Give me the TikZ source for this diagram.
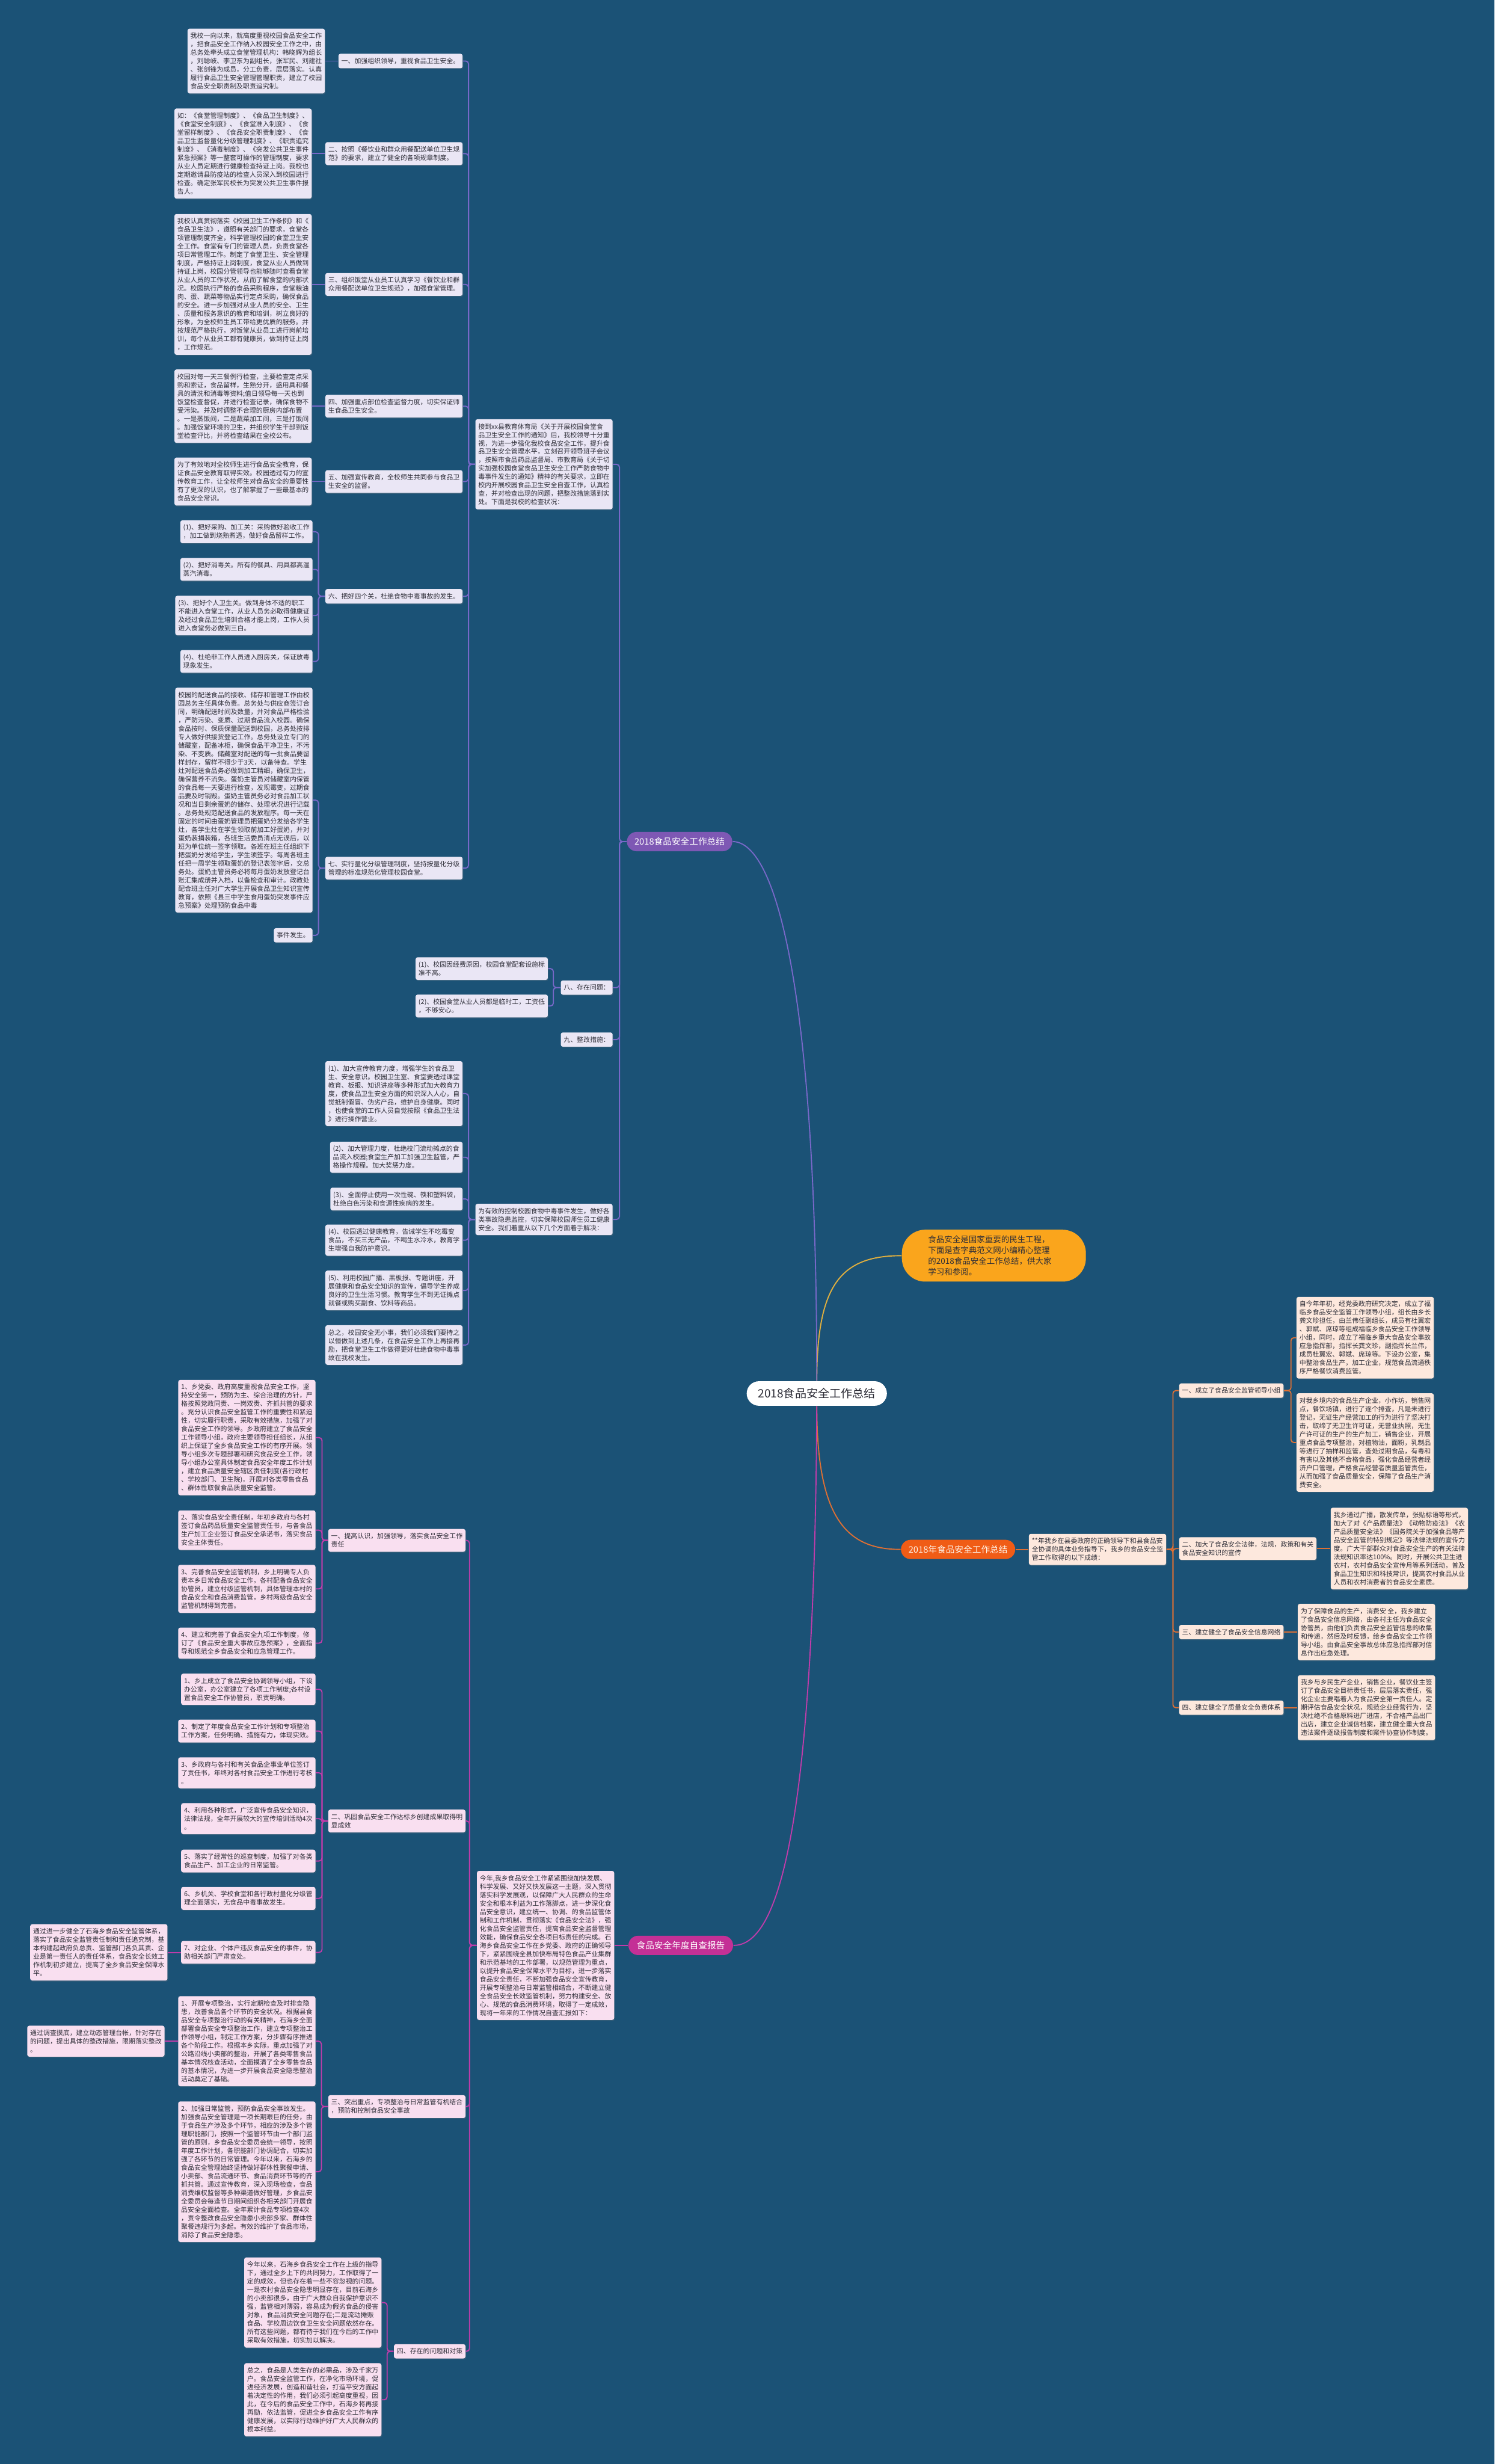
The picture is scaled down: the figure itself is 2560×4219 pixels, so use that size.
\documentclass[tikz,border=0pt]{standalone}
\usepackage{fontspec}
\setmainfont{Noto Sans CJK SC}
\usetikzlibrary{positioning,shadows}

\definecolor{bgblue}{RGB}{27,82,118}
\definecolor{inkdark}{RGB}{45,45,55}
\definecolor{cPurpMain}{RGB}{126,88,180}
\definecolor{cPurpLine}{RGB}{120,104,200}
\definecolor{cPurpLeaf}{RGB}{234,230,245}
\definecolor{cPinkMain}{RGB}{196,48,150}
\definecolor{cPinkLine}{RGB}{192,60,170}
\definecolor{cPinkLeaf}{RGB}{249,223,240}
\definecolor{cOrgMain}{RGB}{240,92,22}
\definecolor{cOrgLine}{RGB}{222,112,52}
\definecolor{cOrgLeaf}{RGB}{253,232,221}
\definecolor{cAmbMain}{RGB}{250,165,28}
\definecolor{cAmbLine}{RGB}{226,176,62}

\newcommand\leaffont{\fontsize{3.2pt}{4.1pt}\selectfont}
\newcommand\branchfont{\fontsize{4.3pt}{5.2pt}\selectfont}
\newcommand\rootfont{\fontsize{5.6pt}{6.6pt}\selectfont}
\newcommand\introfont{\fontsize{3.95pt}{5.3pt}\selectfont}

\begin{document}
\begin{tikzpicture}[x=0.01cm, y=-0.01cm,
  box/.style={rectangle, rounded corners=0.035cm, align=left, text=inkdark, font=\leaffont,
    inner xsep=0.05cm, inner ysep=0.07cm,
    drop shadow={shadow xshift=0.012cm, shadow yshift=-0.015cm, opacity=0.25}},
  pbox/.style={box, fill=cPurpLeaf},
  kbox/.style={box, fill=cPinkLeaf},
  obox/.style={box, fill=cOrgLeaf},
  branch/.style={rectangle, rounded corners=0.165cm, font=\branchfont, text=white,
    inner xsep=0.13cm, inner ysep=0.05cm, minimum height=0.33cm},
  plink/.style={draw=cPurpLine, line width=0.55pt, rounded corners=0.05cm},
  klink/.style={draw=cPinkLine, line width=0.55pt, rounded corners=0.05cm},
  olink/.style={draw=cOrgLine, line width=0.55pt, rounded corners=0.05cm},
  alink/.style={draw=cAmbLine, line width=0.55pt}]

  \useasboundingbox (0,0) rectangle (2560,4219);
  \fill[bgblue] (0,0) rectangle (2560,4219);

  % Nodes
  \node[rectangle, rounded corners=0.21cm, fill=white, text=inkdark, font=\rootfont,
    minimum width=2.4cm, minimum height=0.42cm] (root) at (1399,2386) {2018食品安全工作总结};

  \node[rectangle, rounded corners=0.4cm, fill=cAmbMain, text=inkdark, font=\introfont, align=left,
    text width=2.25cm, inner xsep=0.45cm, inner ysep=0.1cm, anchor=west] (intro) at (1544,2150)
    {食品安全是国家重要的民生工程，\\下面是查字典范文网小编精心整理\\的2018食品安全工作总结，供大家\\学习和参阅。};

  \node[branch, fill=cPurpMain] (school) at (1164,1441) {2018食品安全工作总结};
  \node[branch, fill=cOrgMain, text=orange!8] (town) at (1641,2653) {2018年食品安全工作总结};
  \node[branch, fill=cPinkMain, inner xsep=0.14cm] (selfcheck) at (1166,3331) {食品安全年度自查报告};

  % school branch
  \node[pbox, anchor=east] (notice) at (1050,795) {接到xx县教育体育局《关于开展校园食堂食\\品卫生安全工作的通知》后，我校领导十分重\\视，为进一步强化我校食品安全工作，提升食\\品卫生安全管理水平，立刻召开领导班子会议\\，按照市食品药品监督局、市教育局《关于切\\实加强校园食堂食品卫生安全工作严防食物中\\毒事件发生的通知》精神的有关要求，立即在\\校内开展校园食品卫生安全自查工作，认真检\\查，并对检查出现的问题，把整改措施落到实\\处。下面是我校的检查状况：};

  \node[pbox, anchor=east] (sec1) at (793,104.5) {一、加强组织领导，重视食品卫生安全。};
  \node[pbox, anchor=east] (sec2) at (793,263) {二、按照《餐饮业和群众用餐配送单位卫生规\\范》的要求，建立了健全的各项规章制度。};
  \node[pbox, anchor=east] (sec3) at (793,487) {三、组织饭堂从业员工认真学习《餐饮业和群\\众用餐配送单位卫生规范》，加强食堂管理。};
  \node[pbox, anchor=east] (sec4) at (793,695.5) {四、加强重点部位检查监督力度，切实保证师\\生食品卫生安全。};
  \node[pbox, anchor=east] (sec5) at (793,824.5) {五、加强宣传教育，全校师生共同参与食品卫\\生安全的监督。};
  \node[pbox, anchor=east] (sec6) at (793,1021) {六、把好四个关，杜绝食物中毒事故的发生。};
  \node[pbox, anchor=east] (sec7) at (793,1486.5) {七、实行量化分级管理制度，坚持按量化分级\\管理的标准规范化管理校园食堂。};

  \node[pbox, left=0.22cm of sec1] (sec1txt) {我校一向以来，就高度重视校园食品安全工作\\，把食品安全工作纳入校园安全工作之中，由\\总务处牵头成立食堂管理机构：韩晓辉为组长\\，刘聪岐、李卫东为副组长，张军民、刘建社\\、张剑锋为成员，分工负责，层层落实。认真\\履行食品卫生安全管理管理职责，建立了校园\\食品安全职责制及职责追究制。};
  \node[pbox, left=0.22cm of sec2] (sec2txt) {如：《食堂管理制度》、《食品卫生制度》、\\《食堂安全制度》、《食堂准入制度》、《食\\堂留样制度》、《食品安全职责制度》、《食\\品卫生监督量化分级管理制度》、《职责追究\\制度》、《消毒制度》、《突发公共卫生事件\\紧急预案》等一整套可操作的管理制度，要求\\从业人员定期进行健康检查持证上岗。我校也\\定期邀请县防疫站的检查人员深入到校园进行\\检查。确定张军民校长为突发公共卫生事件报\\告人。};
  \node[pbox, left=0.22cm of sec3] (sec3txt) {我校认真贯彻落实《校园卫生工作条例》和《\\食品卫生法》，遵照有关部门的要求，食堂各\\项管理制度齐全，科学管理校园的食堂卫生安\\全工作。食堂有专门的管理人员，负责食堂各\\项日常管理工作。制定了食堂卫生、安全管理\\制度，严格持证上岗制度，食堂从业人员做到\\持证上岗，校园分管领导也能够随时查看食堂\\从业人员的工作状况，从而了解食堂的内部状\\况。校园执行严格的食品采购程序，食堂粮油\\肉、蛋、蔬菜等物品实行定点采购，确保食品\\的安全。进一步加强对从业人员的安全、卫生\\、质量和服务意识的教育和培训，树立良好的\\形象，为全校师生员工带给更优质的服务。并\\按规范严格执行，对饭堂从业员工进行岗前培\\训，每个从业员工都有健康员，做到持证上岗\\，工作规范。};
  \node[pbox, left=0.22cm of sec4] (sec4txt) {校园对每一天三餐例行检查，主要检查定点采\\购和索证，食品留样，生熟分开，盛用具和餐\\具的清洗和消毒等资料;值日领导每一天也到\\饭堂检查督促，并进行检查记录，确保食物不\\受污染。并及时调整不合理的厨房内部布置\\。一是蒸饭间，二是蔬菜加工间，三是打饭间\\。加强饭堂环境的卫生，并组织学生干部到饭\\堂检查评比，并将检查结果在全校公布。};
  \node[pbox, left=0.22cm of sec5] (sec5txt) {为了有效地对全校师生进行食品安全教育，保\\证食品安全教育取得实效。校园透过有力的宣\\传教育工作，让全校师生对食品安全的重要性\\有了更深的认识，也了解掌握了一些最基本的\\食品安全常识。};

  \node[pbox, anchor=east] (gate1) at (536,910.5) {(1)、把好采购、加工关：采购做好验收工作\\，加工做到烧熟煮透，做好食品留样工作。};
  \node[pbox, anchor=east] (gate2) at (536,975) {(2)、把好消毒关。所有的餐具、用具都高温\\蒸汽消毒。};
  \node[pbox, anchor=east] (gate3) at (536,1054) {(3)、把好个人卫生关。做到身体不适的职工\\不能进入食堂工作，从业人员务必取得健康证\\及经过食品卫生培训合格才能上岗，工作人员\\进入食堂务必做到三白。};
  \node[pbox, anchor=east] (gate4) at (536,1132.5) {(4)、杜绝非工作人员进入厨房关，保证放毒\\现象发生。};

  \node[pbox, anchor=east] (sec7txt) at (536,1370) {校园的配送食品的接收、储存和管理工作由校\\园总务主任具体负责。总务处与供应商签订合\\同，明确配送时间及数量，并对食品严格检验\\，严防污染、变质、过期食品流入校园。确保\\食品按时、保质保量配送到校园，总务处按排\\专人做好供接货登记工作。总务处设立专门的\\储藏室，配备冰柜，确保食品干净卫生，不污\\染、不变质。储藏室对配送的每一批食品要留\\样封存，留样不得少于3天，以备待查。学生\\灶对配送食品务必做到加工精细，确保卫生，\\确保营养不流失。蛋奶主管员对储藏室内保管\\的食品每一天要进行检查，发现霉变，过期食\\品要及时销毁。蛋奶主管员务必对食品加工状\\况和当日剩余蛋奶的储存、处理状况进行记载\\。总务处规范配送食品的发放程序。每一天在\\固定的时间由蛋奶管理员把蛋奶分发给各学生\\灶，各学生灶在学生领取前加工好蛋奶，并对\\蛋奶装捐装箱，各班生活委员清点无误后，以\\班为单位统一签字领取。各班在班主任组织下\\把蛋奶分发给学生，学生须签字。每周各班主\\任把一周学生领取蛋奶的登记表签字后，交总\\务处。蛋奶主管员务必将每月蛋奶发放登记台\\账汇集成册并入档，以备检查和审计。政教处\\配合班主任对广大学生开展食品卫生知识宣传\\教育，依照《县三中学生食用蛋奶突发事件应\\急预案》处理预防食品中毒};
  \node[pbox, anchor=east] (sec7end) at (536,1601.5) {事件发生。};

  \node[pbox, anchor=east] (probs) at (1050,1691) {八、存在问题：};
  \node[pbox, anchor=east] (prob1) at (939,1658.5) {(1)、校园因经费原因，校园食堂配套设施标\\准不高。};
  \node[pbox, anchor=east] (prob2) at (939,1722.5) {(2)、校园食堂从业人员都是临时工，工资低\\，不够安心。};
  \node[pbox, anchor=east] (fixes) at (1050,1780) {九、整改措施：};

  \node[pbox, anchor=east] (measures) at (1050,2088) {为有效的控制校园食物中毒事件发生，做好各\\类事故隐患监控，切实保障校园师生员工健康\\安全。我们着重从以下几个方面着手解决：};
  \node[pbox, anchor=east] (meas1) at (793,1872.5) {(1)、加大宣传教育力度，增强学生的食品卫\\生、安全意识。校园卫生室、食堂要透过课堂\\教育、板报、知识讲座等多种形式加大教育力\\度，使食品卫生安全方面的知识深入人心，自\\觉抵制假冒、伪劣产品，维护自身健康。同时\\，也使食堂的工作人员自觉按照《食品卫生法\\》进行操作营业。};
  \node[pbox, anchor=east] (meas2) at (793,1981.5) {(2)、加大管理力度，杜绝校门流动摊点的食\\品流入校园;食堂生产加工加强卫生监管，严\\格操作规程。加大奖惩力度。};
  \node[pbox, anchor=east] (meas3) at (793,2053) {(3)、全面停止使用一次性碗、筷和塑料袋，\\杜绝白色污染和食源性疾病的发生。};
  \node[pbox, anchor=east] (meas4) at (793,2123.5) {(4)、校园透过健康教育，告诫学生不吃霉变\\食品，不买三无产品，不喝生水冷水，教育学\\生增强自我防护意识。};
  \node[pbox, anchor=east] (meas5) at (793,2209.5) {(5)、利用校园广播、黑板报、专题讲座，开\\展健康和食品安全知识的宣传，倡导学生养成\\良好的卫生生活习惯。教育学生不到无证摊点\\就餐或购买副食、饮料等商品。};
  \node[pbox, anchor=east] (meas6) at (793,2303) {总之，校园安全无小事，我们必须我们要持之\\以恒做到上述几条，在食品安全工作上再接再\\励，把食堂卫生工作做得更好杜绝食物中毒事\\故在我校发生。};

  % town branch
  \node[obox, right=0.22cm of town] (towngain) {**年我乡在县委政府的正确领导下和县食品安\\全协调的具体业务指导下，我乡的食品安全监\\管工作取得的以下成绩：};
  \node[obox, anchor=west] (work1) at (2019,2381) {一、成立了食品安全监管领导小组};
  \node[obox, anchor=west] (work2) at (2019,2651.5) {二、加大了食品安全法律，法规，政策和有关\\食品安全知识的宣传};
  \node[obox, anchor=west] (work3) at (2019,2794.5) {三、建立健全了食品安全信息网络};
  \node[obox, anchor=west] (work4) at (2019,2924) {四、建立健全了质量安全负责体系};

  \node[obox, anchor=west] (work1a) at (2220,2290.5) {自今年年初，经党委政府研究决定，成立了福\\临乡食品安全监管工作领导小组，组长由乡长\\龚文珍担任，由兰伟任副组长，成员有杜翼宏\\、郭斌、席琼等组成福临乡食品安全工作领导\\小组，同时，成立了福临乡重大食品安全事故\\应急指挥部，指挥长龚文珍，副指挥长兰伟，\\成员杜翼宏、郭斌、席琼等。下设办公室，集\\中整治食品生产，加工企业，规范食品流通秩\\序严格餐饮消费监管。};
  \node[obox, anchor=west] (work1b) at (2220,2470) {对我乡境内的食品生产企业，小作坊，销售网\\点，餐饮场镇，进行了逐个排查，凡是未进行\\登记，无证生产经营加工的行为进行了坚决打\\击，取缔了无卫生许可证，无营业执照，无生\\产许可证的生产的生产加工，销售企业，开展\\重点食品专项整治，对植物油，面粉，乳制品\\等进行了抽样和监管，查处过期食品，有毒和\\有害以及其他不合格食品，强化食品经营者经\\济户口管理，严格食品经营者质量监管责任，\\从而加强了食品质量安全，保障了食品生产消\\费安全。};
  \node[obox, right=0.23cm of work2] (work2txt) {我乡通过广播，散发传单，张贴标语等形式，\\加大了对《产品质量法》《动物防疫法》《农\\产品质量安全法》《国务院关于加强食品等产\\品安全监管的特别规定》等法律法规的宣传力\\度。广大干部群众对食品安全生产的有关法律\\法规知识率达100\%。同时，开展公共卫生进\\农村，农村食品安全宣传月等系列活动，普及\\食品卫生知识和科技常识，提高农村食品从业\\人员和农村消费者的食品安全素质。};
  \node[obox, right=0.23cm of work3] (work3txt) {为了保障食品的生产，消费安 全，我乡建立\\了食品安全信息网络，由各村主任为食品安全\\协管员，由他们负责食品安全监管信息的收集\\和传递，然后及时反馈，给乡食品安全工作领\\导小组。由食品安全事故总体应急指挥部对信\\息作出应急处理。};
  \node[obox, right=0.23cm of work4] (work4txt) {我乡与乡民生产企业，销售企业，餐饮业主签\\订了食品安全目标责任书，层层落实责任，强\\化企业主要唱着人为食品安全第一责任人。定\\期评估食品安全状况，规范企业经营行为，坚\\决杜绝不合格原料进厂进店，不合格产品出厂\\出店，建立企业诚信档案，建立健全重大食品\\违法案件逐级报告制度和案件协查协作制度。};

  % selfcheck branch
  \node[kbox, left=0.23cm of selfcheck] (overview) {今年,我乡食品安全工作紧紧围绕加快发展、\\科学发展、又好又快发展这一主题，深入贯彻\\落实科学发展观，以保障广大人民群众的生命\\安全和根本利益为工作落脚点，进一步深化食\\品安全意识，建立统一、协调、的食品监管体\\制和工作机制，贯彻落实《食品安全法》，强\\化食品安全监管责任，提高食品安全监督管理\\效能，确保食品安全各项目标责任的完成。石\\海乡食品安全工作在乡党委、政府的正确领导\\下，紧紧围绕全县加快布局特色食品产业集群\\和示范基地的工作部署，以规范管理为重点，\\以提升食品安全保障水平为目标，进一步落实\\食品安全责任，不断加强食品安全宣传教育，\\开展专项整治与日常监管相结合，不断建立健\\全食品安全长效监管机制，努力构建安全、放\\心、规范的食品消费环境，取得了一定成效，\\现将一年来的工作情况自查汇报如下：};

  \node[kbox, anchor=east] (part1) at (798,2637.5) {一、提高认识，加强领导，落实食品安全工作\\责任};
  \node[kbox, anchor=east] (part2) at (798,3118) {二、巩固食品安全工作达标乡创建成果取得明\\显成效};
  \node[kbox, anchor=east] (part3) at (798,3607) {三、突出重点，专项整治与日常监管有机结合\\，预防和控制食品安全事故};
  \node[kbox, anchor=east] (part4) at (798,4026) {四、存在的问题和对策};

  \node[kbox, anchor=east] (lead1) at (541,2461.5) {1、乡党委、政府高度重视食品安全工作，坚\\持安全第一，预防为主、综合治理的方针，严\\格按照党政同责、一岗双责、齐抓共管的要求\\。充分认识食品安全监管工作的重要性和紧迫\\性，切实履行职责，采取有效措施，加强了对\\食品安全工作的领导。乡政府建立了食品安全\\工作领导小组，政府主要领导担任组长，从组\\织上保证了全乡食品安全工作的有序开展。领\\导小组多次专题部署和研究食品安全工作，领\\导小组办公室具体制定食品安全年度工作计划\\，建立食品质量安全辖区责任制度(各行政村\\、学校部门、卫生院)，开展对各类零售食品\\、群体性取餐食品质量安全监管。};
  \node[kbox, anchor=east] (lead2) at (541,2620) {2、落实食品安全责任制，年初乡政府与各村\\签订食品药品质量安全监管责任书，与各食品\\生产加工企业签订食品安全承诺书，落实食品\\安全主体责任。};
  \node[kbox, anchor=east] (lead3) at (541,2720.5) {3、完善食品安全监管机制，乡上明确专人负\\责本乡日常食品安全工作，各村配备食品安全\\协管员，建立村级监管机制，具体管理本村的\\食品安全和食品消费监管，乡村两级食品安全\\监管机制得到完善。};
  \node[kbox, anchor=east] (lead4) at (541,2813.5) {4、建立和完善了食品安全九项工作制度，修\\订了《食品安全重大事故应急预案》，全面指\\导和规范全乡食品安全和应急管理工作。};

  \node[kbox, anchor=east] (goal1) at (541,2892.5) {1、乡上成立了食品安全协调领导小组，下设\\办公室，办公室建立了各项工作制度;各村设\\置食品安全工作协管员，职责明确。};
  \node[kbox, anchor=east] (goal2) at (541,2964) {2、制定了年度食品安全工作计划和专项整治\\工作方案，任务明确、措施有力，体现实效。};
  \node[kbox, anchor=east] (goal3) at (541,3035.5) {3、乡政府与各村和有关食品企事业单位签订\\了责任书，年终对各村食品安全工作进行考核\\。};
  \node[kbox, anchor=east] (goal4) at (541,3114) {4、利用各种形式，广泛宣传食品安全知识，\\法律法规，全年开展较大的宣传培训活动4次\\。};
  \node[kbox, anchor=east] (goal5) at (541,3186.5) {5、落实了经常性的巡查制度，加强了对各类\\食品生产、加工企业的日常监管。};
  \node[kbox, anchor=east] (goal6) at (541,3250.5) {6、乡机关、学校食堂和各行政村量化分级管\\理全面落实，无食品中毒事故发生。};
  \node[kbox, anchor=east] (goal7) at (541,3343) {7、对企业、个体户违反食品安全的事件，协\\助相关部门严肃查处。};
  \node[kbox, left=0.22cm of goal7] (goal7txt) {通过进一步健全了石海乡食品安全监管体系，\\落实了食品安全监管责任制和责任追究制，基\\本构建起政府负总责、监管部门各负其责、企\\业是第一责任人的责任体系，食品安全长效工\\作机制初步建立，提高了全乡食品安全保障水\\平。};

  \node[kbox, anchor=east] (focus1) at (541,3495) {1、开展专项整治，实行定期检查及时排查隐\\患，改善食品各个环节的安全状况。根据县食\\品安全专项整治行动的有关精神，石海乡全面\\部署食品安全专项整治工作，建立专项整治工\\作领导小组，制定工作方案，分步骤有序推进\\各个阶段工作。根据本乡实际，重点加强了对\\公路沿线小卖部的整治，开展了各类零售食品\\基本情况核查活动，全面摸清了全乡零售食品\\的基本情况，为进一步开展食品安全隐患整治\\活动奠定了基础。};
  \node[kbox, left=0.22cm of focus1] (focus1txt) {通过调查摸底，建立动态管理台帐，针对存在\\的问题，提出具体的整改措施，限期落实整改\\。};
  \node[kbox, anchor=east] (focus2) at (541,3718.5) {2、加强日常监管，预防食品安全事故发生。\\加强食品安全管理是一项长期艰巨的任务，由\\于食品生产涉及多个环节，相应的涉及多个管\\理职能部门，按照一个监管环节由一个部门监\\管的原则，乡食品安全委员会统一领导，按照\\年度工作计划，各职能部门协调配合，切实加\\强了各环节的日常管理。今年以来，石海乡的\\食品安全管理始终坚持做好群体性聚餐申请、\\小卖部、食品流通环节、食品消费环节等的齐\\抓共管。通过宣传教育，深入现场检查，食品\\消费维权监督等多种渠道做好管理，乡食品安\\全委员会每逢节日期间组织各相关部门开展食\\品安全全面检查。全年累计食品专项检查4次\\，责令整改食品安全隐患小卖部多家、群体性\\聚餐违规行为多起。有效的维护了食品市场，\\消除了食品安全隐患。};

  \node[kbox, anchor=east] (issue1) at (654,3942.5) {今年以来，石海乡食品安全工作在上级的指导\\下，通过全乡上下的共同努力，工作取得了一\\定的成效，但也存在着一些不容忽视的问题。\\一是农村食品安全隐患明显存在，目前石海乡\\的小卖部很多，由于广大群众自我保护意识不\\强，监管相对薄弱，容易成为假劣食品的侵害\\对象，食品消费安全问题存在;二是流动摊贩\\食品、学校周边饮食卫生安全问题依然存在。\\所有这些问题，都有待于我们在今后的工作中\\采取有效措施，切实加以解决。};
  \node[kbox, anchor=east] (issue2) at (654,4109) {总之，食品是人类生存的必需品，涉及千家万\\户。食品安全监管工作，在净化市场环境，促\\进经济发展，创造和谐社会，打造平安方面起\\着决定性的作用，我们必须引起高度重视，因\\此，在今后的食品安全工作中，石海乡将再接\\再励，依法监管，促进全乡食品安全工作有序\\健康发展，以实际行动维护好广大人民群众的\\根本利益。};

  % Edges
  \draw[alink] (root.north) .. controls (1399,2200) and (1440,2150) .. (intro.west);
  \draw[plink] (root.north) .. controls (1399,1700) and (1330,1441) .. (school.east);
  \draw[olink] (root.south) .. controls (1399,2600) and (1450,2653) .. (town.west);
  \draw[klink] (root.south) .. controls (1395,3200) and (1320,3331) .. (selfcheck.east);

  \draw[plink] (school.west) -- ++(-12,0) |- (notice.east);
  \draw[plink] (school.west) -- ++(-12,0) |- (probs.east);
  \draw[plink] (school.west) -- ++(-12,0) |- (fixes.east);
  \draw[plink] (school.west) -- ++(-12,0) |- (measures.east);
  \draw[plink] (notice.west) -- ++(-11,0) |- (sec1.east);
  \draw[plink] (notice.west) -- ++(-11,0) |- (sec2.east);
  \draw[plink] (notice.west) -- ++(-11,0) |- (sec3.east);
  \draw[plink] (notice.west) -- ++(-11,0) |- (sec4.east);
  \draw[plink] (notice.west) -- ++(-11,0) |- (sec5.east);
  \draw[plink] (notice.west) -- ++(-11,0) |- (sec6.east);
  \draw[plink] (notice.west) -- ++(-11,0) |- (sec7.east);
  \draw[plink] (sec1.west) -- (sec1txt.east);
  \draw[plink] (sec2.west) -- (sec2txt.east);
  \draw[plink] (sec3.west) -- (sec3txt.east);
  \draw[plink] (sec4.west) -- (sec4txt.east);
  \draw[plink] (sec5.west) -- (sec5txt.east);
  \draw[plink] (sec6.west) -- ++(-11,0) |- (gate1.east);
  \draw[plink] (sec6.west) -- ++(-11,0) |- (gate2.east);
  \draw[plink] (sec6.west) -- ++(-11,0) |- (gate3.east);
  \draw[plink] (sec6.west) -- ++(-11,0) |- (gate4.east);
  \draw[plink] (sec7.west) -- ++(-11,0) |- (sec7txt.east);
  \draw[plink] (sec7.west) -- ++(-11,0) |- (sec7end.east);
  \draw[plink] (probs.west) -- ++(-12,0) |- (prob1.east);
  \draw[plink] (probs.west) -- ++(-12,0) |- (prob2.east);
  \draw[plink] (measures.west) -- ++(-11,0) |- (meas1.east);
  \draw[plink] (measures.west) -- ++(-11,0) |- (meas2.east);
  \draw[plink] (measures.west) -- ++(-11,0) |- (meas3.east);
  \draw[plink] (measures.west) -- ++(-11,0) |- (meas4.east);
  \draw[plink] (measures.west) -- ++(-11,0) |- (meas5.east);
  \draw[plink] (measures.west) -- ++(-11,0) |- (meas6.east);

  \draw[olink] (town.east) -- (towngain.west);
  \draw[olink] (towngain.east) -- ++(11,0) |- (work1.west);
  \draw[olink] (towngain.east) -- ++(11,0) |- (work2.west);
  \draw[olink] (towngain.east) -- ++(11,0) |- (work3.west);
  \draw[olink] (towngain.east) -- ++(11,0) |- (work4.west);
  \draw[olink] (work1.east) -- ++(12,0) |- (work1a.west);
  \draw[olink] (work1.east) -- ++(12,0) |- (work1b.west);
  \draw[olink] (work2.east) -- (work2txt.west);
  \draw[olink] (work3.east) -- (work3txt.west);
  \draw[olink] (work4.east) -- (work4txt.west);

  \draw[klink] (selfcheck.west) -- (overview.east);
  \draw[klink] (overview.west) -- ++(-12,0) |- (part1.east);
  \draw[klink] (overview.west) -- ++(-12,0) |- (part2.east);
  \draw[klink] (overview.west) -- ++(-12,0) |- (part3.east);
  \draw[klink] (overview.west) -- ++(-12,0) |- (part4.east);
  \draw[klink] (part1.west) -- ++(-10,0) |- (lead1.east);
  \draw[klink] (part1.west) -- ++(-10,0) |- (lead2.east);
  \draw[klink] (part1.west) -- ++(-10,0) |- (lead3.east);
  \draw[klink] (part1.west) -- ++(-10,0) |- (lead4.east);
  \draw[klink] (part2.west) -- ++(-10,0) |- (goal1.east);
  \draw[klink] (part2.west) -- ++(-10,0) |- (goal2.east);
  \draw[klink] (part2.west) -- ++(-10,0) |- (goal3.east);
  \draw[klink] (part2.west) -- ++(-10,0) |- (goal4.east);
  \draw[klink] (part2.west) -- ++(-10,0) |- (goal5.east);
  \draw[klink] (part2.west) -- ++(-10,0) |- (goal6.east);
  \draw[klink] (part2.west) -- ++(-10,0) |- (goal7.east);
  \draw[klink] (goal7.west) -- (goal7txt.east);
  \draw[klink] (part3.west) -- ++(-11,0) |- (focus1.east);
  \draw[klink] (part3.west) -- ++(-11,0) |- (focus2.east);
  \draw[klink] (focus1.west) -- (focus1txt.east);
  \draw[klink] (part4.west) -- ++(-11,0) |- (issue1.east);
  \draw[klink] (part4.west) -- ++(-11,0) |- (issue2.east);
\end{tikzpicture}
\end{document}
